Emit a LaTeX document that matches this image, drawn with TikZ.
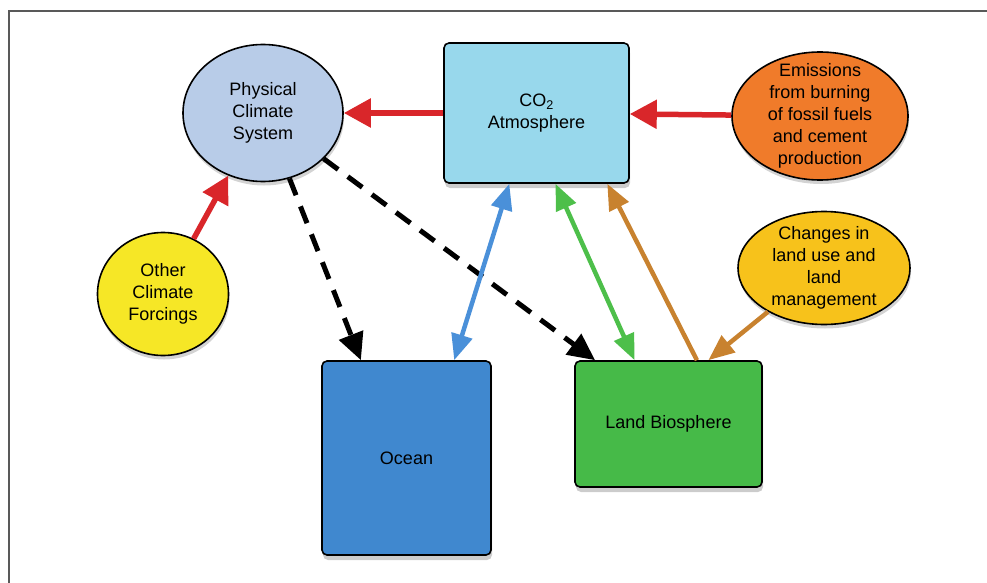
\documentclass[tikz,border=0pt]{standalone}
\usepackage{fontspec}
\setmainfont{Liberation Sans}
\usepackage{tikz}
\usetikzlibrary{shapes.geometric}
\usetikzlibrary{arrows.meta}
\usetikzlibrary{shadows}
\definecolor{physcol}{RGB}{184,204,232}
\definecolor{atmocol}{RGB}{152,216,236}
\definecolor{emiscol}{RGB}{240,123,42}
\definecolor{forccol}{RGB}{246,231,38}
\definecolor{landusecol}{RGB}{247,194,27}
\definecolor{oceancol}{RGB}{64,136,207}
\definecolor{biocol}{RGB}{70,186,72}
\definecolor{redflux}{RGB}{217,38,42}
\definecolor{blueflux}{RGB}{74,144,217}
\definecolor{greenflux}{RGB}{77,191,74}
\definecolor{brownflux}{RGB}{200,130,47}
\tikzset{
  blob/.style={ellipse, draw, line width=1.6pt, inner xsep=0pt, inner ysep=-8pt, align=center,
    font=\fontsize{18}{22}\selectfont, drop shadow={shadow xshift=1pt, shadow yshift=-4pt, opacity=.35}},
  pool/.style={rectangle, rounded corners=5pt, draw, line width=1.6pt, align=center,
    font=\fontsize{18}{22}\selectfont, drop shadow={shadow xshift=1pt, shadow yshift=-5pt, opacity=.4}},
  forcing/.style={line width=5.5pt, -{Triangle[length=27pt,width=28pt]}},
  exchange/.style={line width=4.5pt, {Triangle[length=26pt,width=21pt]}-{Triangle[length=26pt,width=21pt]}},
  oneway/.style={line width=4.5pt, -{Triangle[length=26pt,width=21pt]}},
  response/.style={line width=5pt, dash pattern=on 18pt off 12pt, -{Triangle[length=27pt,width=25pt]}}
}

\begin{document}
\begin{tikzpicture}[x=1pt,y=-1pt]
    \useasboundingbox (0,0) rectangle (987,583);
    % frame
    \draw[black!65, line width=1.5pt] (9,583) -- (9,11) -- (987,11);

    \node[blob, fill=physcol, minimum width=160pt, minimum height=137pt] (phys) at (263,113) {Physical\\Climate\\System};
    \node[pool, fill=atmocol, minimum width=185pt, minimum height=140pt] (atmo) at (536.5,113) {CO\textsubscript{2}\\Atmosphere};
    \node[blob, fill=emiscol, minimum width=176pt, minimum height=128pt] (emis) at (820,116) {Emissions\\from burning\\of fossil fuels\\and cement\\production};
    \node[blob, fill=forccol, minimum width=131pt, minimum height=123pt] (forc) at (163,294) {Other\\Climate\\Forcings};
    \node[blob, fill=landusecol, minimum width=172pt, minimum height=113pt] (landuse) at (824,268) {Changes in\\land use and\\land\\management};
    \node[pool, fill=oceancol, minimum width=169pt, minimum height=194pt] (ocean) at (406.5,458) {Ocean};
    \node[pool, fill=biocol, minimum width=187pt, minimum height=126pt] (bio) at (668.5,424) {Land Biosphere};

    %red forcings
    \draw[forcing, redflux] (atmo) -- (phys);
    \draw[forcing, redflux] (emis) -- (atmo);
    \draw[forcing, redflux] (forc.61) -- (phys.241);
    %climate response
    \draw[response] (phys.292) -- (ocean.115);
    \draw[response] (phys.323) -- (bio.139);
    %carbon exchange
    \draw[exchange, blueflux] (ocean.64) -- (atmo.249);
    \draw[exchange, greenflux] (atmo.285) -- (bio.118);
    \draw[oneway, brownflux] (bio.66) -- (atmo.315.6);
    \draw[oneway, brownflux] (landuse.218) -- (bio.58);
\end{tikzpicture}
\end{document}
